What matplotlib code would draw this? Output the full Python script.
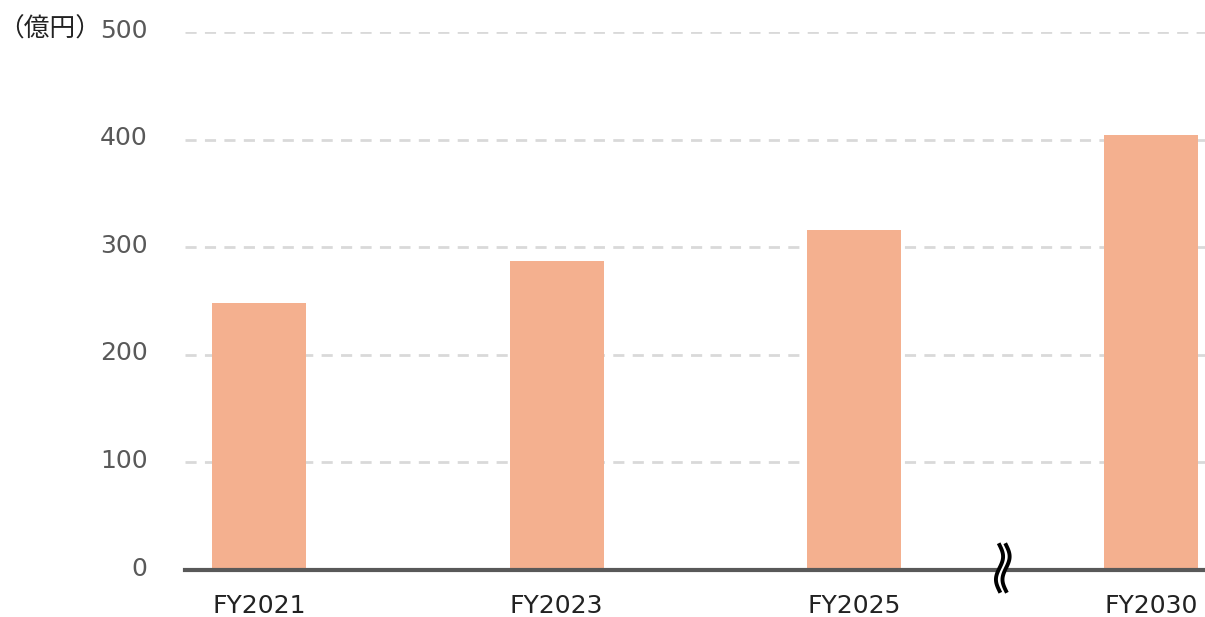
import matplotlib
matplotlib.use("Agg")
import matplotlib.pyplot as plt
import numpy as np
from matplotlib.transforms import blended_transform_factory, ScaledTranslation

plt.rcParams['font.family'] = ['DejaVu Sans', 'Noto Sans CJK JP']

categories = ["FY2021", "FY2023", "FY2025", "FY2030"]
values = [248, 287, 316, 404]
yticks = [0, 100, 200, 300, 400, 500]
unit_label = "（億円）"

fig = plt.figure(figsize=(12.05, 6.17), dpi=100)
W, H = 1205, 617
ax = fig.add_axes([185 / W, 1 - 570 / H, (1205 - 185) / W, (570 - 32) / H])

x = np.arange(len(categories))
ax.bar(x, values, width=0.316, color="#f4b08f", zorder=2)

ax.set_xlim(-0.25, 3.18)
ax.set_ylim(0, 500)
ax.set_yticks(yticks)
ax.set_yticklabels([str(v) for v in yticks], fontsize=18, color="#595959")
ax.set_xticks(x)
ax.set_xticklabels(categories, fontsize=18, color="#222222")
ax.tick_params(axis='y', length=0, pad=27)
ax.tick_params(axis='x', length=0, pad=17)

shift = ScaledTranslation(0, 4 / 100, fig.dpi_scale_trans)
for lbl in ax.get_yticklabels():
    lbl.set_transform(lbl.get_transform() + shift)

for v in yticks[1:]:
    ax.axhline(v, color="#d9d9d9", lw=2, ls=(0, (4, 3)), zorder=1)

for s in ["top", "right", "left"]:
    ax.spines[s].set_visible(False)
ax.spines["bottom"].set_color("#595959")
ax.spines["bottom"].set_linewidth(3)
ax.spines["bottom"].set_zorder(3)

# axis break symbol between FY2025 and FY2030
tr = blended_transform_factory(ax.transData, fig.transFigure)
t = np.linspace(0, 1, 60)
ycen = 1 - 568 / H
half = 23 / H
ys = ycen + half * (1 - 2 * t)
dx = 0.012 * np.sin(2 * np.pi * t)
xb = 2.5
ax.fill_betweenx(ys, xb - 0.012 + dx, xb + 0.012 + dx, color="white", transform=tr, zorder=4, clip_on=False)
for off in (-0.011, 0.011):
    ax.plot(xb + off + dx, ys, color="black", lw=2.8, transform=tr, zorder=5, clip_on=False)

fig.text(50 / W, 1 - 30 / H, unit_label, fontsize=18.5, color="#222222", ha="center", va="center",
         family=['Noto Sans CJK JP', 'DejaVu Sans'])

fig.savefig("out.png", dpi=100)
